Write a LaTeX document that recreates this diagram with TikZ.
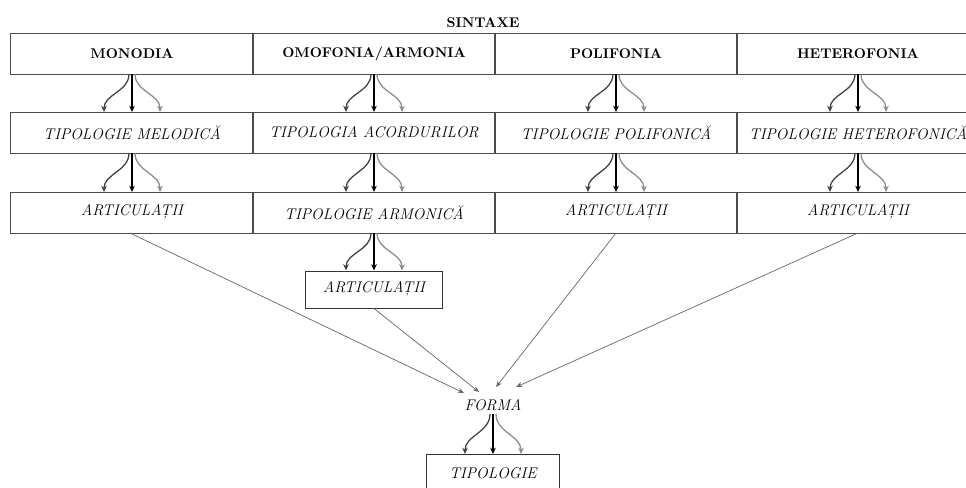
\documentclass[tikz,border=0pt]{standalone}
\usetikzlibrary{arrows.meta,calc}
\tikzset{
  cell/.style={draw=black!70, line width=0.7pt, minimum width=6.05cm, minimum height=1.025cm, inner sep=0pt, outer sep=0pt, font=\fontsize{11}{13}\selectfont\itshape},
  headcell/.style={cell, font=\normalsize\bfseries},
  smallbox/.style={draw=black!80, line width=0.7pt, minimum width=3.425cm, minimum height=0.925cm, inner sep=0pt, font=\fontsize{11}{13}\selectfont\itshape},
  fan/.style={line width=0.9pt, -{Stealth[length=4.5pt,width=4pt]}},
  toform/.style={draw=black!60, line width=0.5pt, -{Stealth[length=4.5pt,width=3.5pt]}}
}
\begin{document}
\begin{tikzpicture}[x=0.025cm, y=-0.025cm]
  \useasboundingbox (0,0) rectangle (966,487);
  \node[font=\bfseries] (sintaxe) at (483,23) {SINTAXE};
  % first row
  \node[headcell] (mon) at (132,53.5) {MONODIA};
  \node[headcell] (omo) at (374,53.5) {OMOFONIA/ARMONIA};
  \node[headcell] (pol) at (616,53.5) {POLIFONIA};
  \node[headcell] (het) at (858,53.5) {HETEROFONIA};
  % second row
  \node[cell] (tmel) at (132,132.5) {TIPOLOGIE MELODICĂ};
  \node[cell] (tacord) at (374,132.5) {TIPOLOGIA ACORDURILOR};
  \node[cell] (tpol) at (616,132.5) {TIPOLOGIE POLIFONICĂ};
  \node[cell] (thet) at (858,132.5) {TIPOLOGIE HETEROFONICĂ};
  % third row
  \node[cell] (art1) at (132,212.5) {ARTICULAȚII};
  \node[cell] (tarm) at (374,212.5) {TIPOLOGIE ARMONICĂ};
  \node[cell] (art3) at (616,212.5) {ARTICULAȚII};
  \node[cell] (art4) at (858,212.5) {ARTICULAȚII};
  \node[smallbox] (art2) at (374,289.5) {ARTICULAȚII};
  % form
  \node[font=\fontsize{11}{13}\selectfont\itshape, inner sep=0pt] (forma) at (493,405) {FORMA};
  \node[smallbox, minimum width=3.325cm] (tip) at (493,473) {TIPOLOGIE};
  % fan arrows
  \foreach \a/\b in {mon/tmel, omo/tacord, pol/tpol, het/thet, tmel/art1, tacord/tarm, tpol/art3, thet/art4, tarm/art2}{
    \draw[fan, black!75] ($(\a.south)+(-3,0)$) to[out=-90, in=90] ($(\b.north)+(-28,0)$);
    \draw[fan, black] (\a.south) -- (\b.north);
    \draw[fan, black!45] ($(\a.south)+(3,0)$) to[out=-90, in=90] ($(\b.north)+(28,0)$);
  }
  \draw[fan, black!75] ($(forma.south)+(-3,3)$) to[out=-90, in=90] ($(tip.north)+(-28,0)$);
  \draw[fan, black] ($(forma.south)+(0,3)$) -- (tip.north);
  \draw[fan, black!45] ($(forma.south)+(3,3)$) to[out=-90, in=90] ($(tip.north)+(28,0)$);
  % towards the form
  \draw[toform] ($(art1.south)+(-2,0)$) -- ($(forma.north)+(-29,-6)$);
  \draw[toform] (art2.south) -- ($(forma.north)+(-14,-7)$);
  \draw[toform] (art3.south) -- ($(forma.north)+(3,-12)$);
  \draw[toform] (art4.south) -- ($(forma.north)+(23,-12)$);
\end{tikzpicture}
\end{document}
